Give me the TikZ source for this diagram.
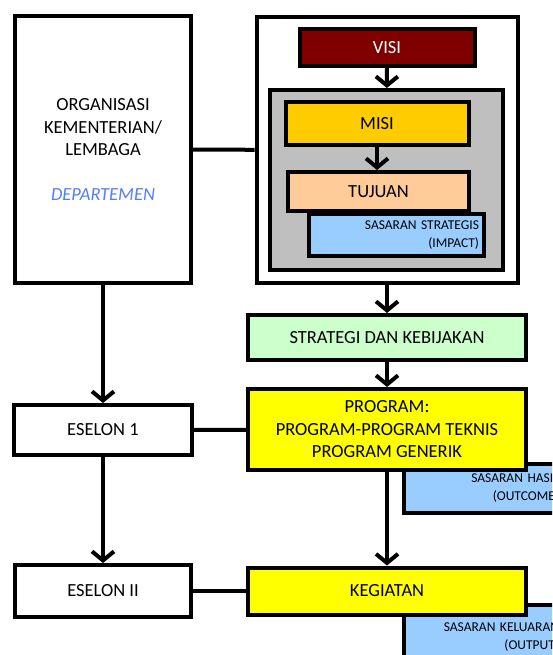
\documentclass[tikz,border=0pt]{standalone}
\usepackage{fontspec}
\setmainfont{Carlito}
\usetikzlibrary{arrows.meta}
\definecolor{visired}{RGB}{128, 0, 0}
\definecolor{misiyel}{RGB}{255, 204, 0}
\definecolor{tujpeach}{RGB}{255, 204, 153}
\definecolor{sasblue}{RGB}{153, 204, 255}
\definecolor{midgray}{RGB}{191, 191, 191}
\definecolor{stratgreen}{RGB}{204, 255, 204}
\definecolor{progyel}{RGB}{255, 255, 0}
\definecolor{depblue}{RGB}{84, 126, 255}
\newcommand*{\lw}{4}

\begin{document}
\begin{tikzpicture}[
   x=1pt, y=-1pt,
   plainbox/.style={rectangle, draw=black, fill=white, line width=\lw, text=black,
                    inner sep=4, align=center, font=\fontsize{18.5}{22.5}\selectfont},
   visibox/.style={plainbox, fill=visired, text=white},
   misibox/.style={plainbox, fill=misiyel},
   tujbox/.style={plainbox, fill=tujpeach},
   grabox/.style={plainbox, fill=midgray},
   stratbox/.style={plainbox, fill=stratgreen},
   progbox/.style={plainbox, fill=progyel},
   sasbox/.style={rectangle, draw=black, fill=sasblue, line width=\lw, text=black,
                  inner xsep=5, inner ysep=0, align=right,
                  font=\fontsize{13.5}{18}\selectfont},
   link/.style={draw=black, line width=\lw},
   arr/.style={link, -{Straight Barb[length=9, width=22]}}
  ]

  \clip (0, 0) rectangle (552, 655);

  % left column
  \node (O) at (103, 149.5) [plainbox, minimum width=176, minimum height=267]
        {ORGANISASI\\KEMENTERIAN/\\LEMBAGA\\[22pt]\textcolor{depblue}{\textit{DEPARTEMEN}}};

  \node (E) at (103, 430) [plainbox, minimum width=178, minimum height=50] {ESELON 1};

  \node (F) at (103, 591) [plainbox, minimum width=176, minimum height=52] {ESELON II};

  % right column
  \node (W) at (387, 150) [plainbox, minimum width=261, minimum height=266] {};

  \node (V) at (387, 47.5) [visibox, minimum width=175, minimum height=37] {VISI};

  \node (G) at (386.5, 180) [grabox, minimum width=233, minimum height=180] {};

  \node (M) at (377, 123.5) [misibox, minimum width=183, minimum height=43] {MISI};

  \node (I) at (396.5, 235) [sasbox, text width=165, minimum height=42]
        {SASARAN STRATEGIS\\(IMPACT)};

  \node (T) at (378.5, 191.5) [tujbox, minimum width=181, minimum height=39] {TUJUAN};

  \node (S) at (387, 337.5) [stratbox, minimum width=278, minimum height=45]
        {STRATEGI DAN KEBIJAKAN};

  \node (H) at (484, 488.5) [sasbox, text width=150, minimum height=49]
        {SASARAN HASIL\\(OUTCOME)};

  \node (P) at (387, 429.5) [progbox, minimum width=278, minimum height=81]
        {PROGRAM:\\PROGRAM-PROGRAM TEKNIS\\PROGRAM GENERIK};

  \node (L) at (484, 637) [sasbox, text width=150, minimum height=64]
        {SASARAN KELUARAN\\(OUTPUT)};

  \node (K) at (387, 591) [progbox, minimum width=278, minimum height=47] {KEGIATAN};

  \foreach \B/\E in {O/W, E/P, F/K} {
    \draw[link] (\B) -- (\E);
  }

  \foreach \B/\E in {O/E, E/F, V/G, W/S, S/P, P/K} {
    \draw[arr] (\B) -- (\E);
  }
  \draw[arr] (M.south) -- (M.south |- T.north);

\end{tikzpicture}
\end{document}
